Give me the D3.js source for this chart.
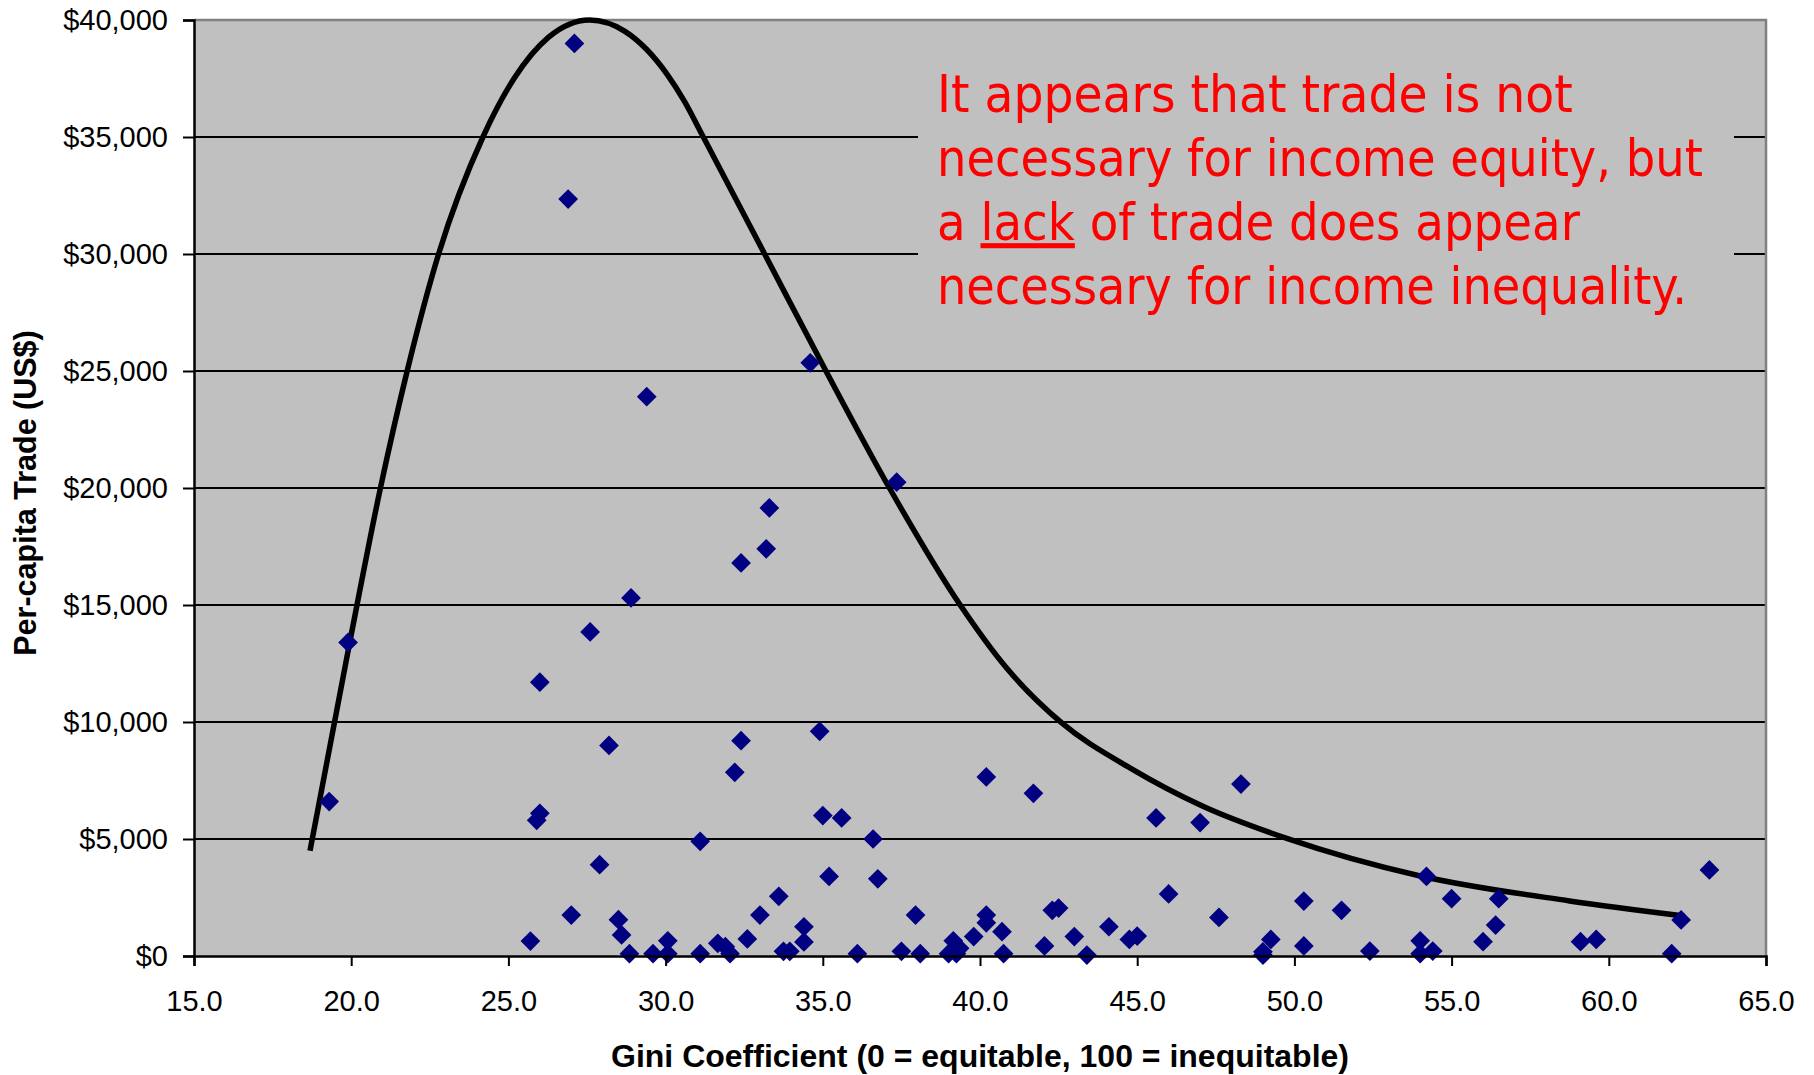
<!DOCTYPE html>
<html>
<head>
<meta charset="utf-8">
<script src="https://cdn.jsdelivr.net/npm/d3@7"></script>
<style>
  html, body { margin: 0; padding: 0; background: #ffffff; }
  svg { display: block; }
</style>
</head>
<body>
<svg id="chart" width="1814" height="1075"></svg>
<script>
// ---- Data ----
const giniValues = [
  19.3, 19.9, 25.7, 25.9, 26.0, 26.0, 26.9, 27.1, 27.0, 27.6,
  27.9, 28.2, 28.5, 28.6, 28.85, 28.9, 29.4, 29.6, 30.07, 30.07,
  31.1, 31.1, 31.66, 31.9, 32.05, 32.2, 32.4, 32.4, 32.6, 33.0,
  33.2, 33.3, 33.6, 33.75, 33.95, 34.4, 34.4, 34.6, 34.9, 35.0,
  35.2, 35.6, 36.1, 36.6, 36.75, 37.35, 37.5, 37.95, 38.1, 39.0,
  39.15, 39.25, 39.35, 39.8, 40.2, 40.2, 40.2, 40.7, 40.75, 41.7,
  42.05, 42.3, 42.5, 43.0, 43.4, 44.1, 44.75, 45.0, 45.6, 46.0,
  47.0, 47.6, 48.3, 49.0, 49.0, 49.25, 50.3, 50.3, 51.5, 52.4,
  54.0, 54.0, 54.4, 54.2, 55.0, 56.0, 56.4, 56.5, 59.1, 59.6,
  62.0, 62.3, 63.2
];
const tradeValues = [
  6600, 13400, 640, 5800, 6100, 11700, 32350, 39000, 1750, 13850,
  3900, 9000, 1550, 900, 100, 15300, 23900, 100, 650, 100,
  4900, 100, 540, 400, 100, 7850, 9200, 16800, 730, 1750,
  17400, 19150, 2550, 200, 200, 1250, 600, 25350, 9600, 6000,
  3400, 5900, 100, 5000, 3300, 20250, 200, 1750, 100, 100,
  650, 100, 330, 830, 1750, 1420, 7650, 1040, 100, 6950,
  430, 1950, 2050, 830, 40, 1250, 710, 850, 5900, 2650,
  5700, 1650, 7350, 180, 40, 710, 2350, 430, 1950, 210,
  650, 100, 210, 3400, 2450, 610, 1320, 2450, 610, 710,
  100, 1540, 3680
];

// Hand-drawn envelope curve
const curveGini  = [18.69, 19.91, 20.93, 21.78, 22.78, 24.19, 25.19, 26.28, 27.58, 28.72, 29.4, 30.06, 30.6, 31.2, 33.15, 35.1, 37.12, 39.37, 40.84, 42.6, 44.78, 47.09, 49.78, 53.97, 58.75, 62.4];
const curveTrade = [4500, 13100, 20000, 25000, 30000, 35000, 37519, 39265, 40000, 39505, 38738, 37657, 36525, 35000, 30000, 25000, 20000, 15000, 12316, 9960, 8030, 6400, 5015, 3430, 2354, 1711];

const xTicks = [15, 20, 25, 30, 35, 40, 45, 50, 55, 60, 65];
const yTicks = [0, 5000, 10000, 15000, 20000, 25000, 30000, 35000, 40000];

const annotationLines = [
  ["It appears that trade is not"],
  ["necessary for income equity, but"],
  ["a ", "lack", " of trade does appear"],
  ["necessary for income inequality."]
];
const annotationWidths = [636, 766, 643, 750];

const xTitle = "Gini Coefficient (0 = equitable, 100 = inequitable)";
const yTitle = "Per-capita Trade (US$)";

// ---- Layout ----
const L = 194, R = 1766, T = 20, B = 956;
const svg = d3.select("#chart");
const x = d3.scaleLinear().domain([15, 65]).range([L, R]);
const y = d3.scaleLinear().domain([0, 40000]).range([B, T]);
const tickFont = "'Liberation Sans', Arial, sans-serif";

// plot background
svg.append("rect").attr("x", L).attr("y", T).attr("width", R - L).attr("height", B - T)
  .attr("fill", "#C0C0C0");

// gridlines
svg.append("g").selectAll("line").data(yTicks.filter(d => d > 0 && d < 40000)).join("line")
  .attr("x1", L).attr("x2", R).attr("y1", d => y(d)).attr("y2", d => y(d))
  .attr("stroke", "#000").attr("stroke-width", 2);

// top and right border (gray)
svg.append("path")
  .attr("d", `M${L},${y(40000)}H${R}V${B}`)
  .attr("fill", "none").attr("stroke", "#808080").attr("stroke-width", 2.5);

// text box (covers gridlines)
svg.append("rect").attr("x", 918).attr("y", 48).attr("width", 816).attr("height", 285)
  .attr("fill", "#C0C0C0");

// curve
const line = d3.line().x(d => x(d[0])).y(d => y(d[1])).curve(d3.curveMonotoneX);
svg.append("path")
  .datum(curveGini.map((g, i) => [g, curveTrade[i]]))
  .attr("d", line)
  .attr("fill", "none").attr("stroke", "#000").attr("stroke-width", 5.5);

// points (diamonds)
const diamond = d3.symbol().type(d3.symbolSquare).size(195);
svg.append("g").selectAll("path").data(giniValues.map((g, i) => [g, tradeValues[i]])).join("path")
  .attr("d", diamond)
  .attr("transform", d => `translate(${x(d[0])},${y(d[1])}) rotate(45)`)
  .attr("fill", "#000080");

// axes
const xAxis = d3.axisBottom(x).tickValues(xTicks).tickSize(10).tickFormat(d3.format(".1f"));
const gx = svg.append("g").attr("transform", `translate(0,${B})`).call(xAxis);
gx.select(".domain").attr("stroke", "#000").attr("stroke-width", 2.5);
gx.selectAll(".tick line").attr("stroke", "#000").attr("stroke-width", 2);
gx.selectAll(".tick text").attr("y", 55).attr("dy", 0)
  .attr("font-family", tickFont).attr("font-size", 29).attr("fill", "#000");

const yAxis = d3.axisLeft(y).tickValues(yTicks).tickSize(11).tickPadding(15)
  .tickFormat(d => "$" + d3.format(",")(d));
const gy = svg.append("g").attr("transform", `translate(${L},0)`).call(yAxis);
gy.select(".domain").attr("stroke", "#000").attr("stroke-width", 2.5);
gy.selectAll(".tick line").attr("stroke", "#000").attr("stroke-width", 2);
gy.selectAll(".tick text").attr("font-family", tickFont).attr("font-size", 29).attr("fill", "#000");

// axis titles
svg.append("text").attr("x", (L + R) / 2).attr("y", 1067).attr("text-anchor", "middle")
  .attr("font-family", tickFont).attr("font-weight", "bold").attr("font-size", 32)
  .text(xTitle);
svg.append("text").attr("transform", `translate(36,493) rotate(-90)`).attr("text-anchor", "middle")
  .attr("font-family", tickFont).attr("font-weight", "bold").attr("font-size", 30.5)
  .text(yTitle);

// annotation
const baselines = [112, 176, 240, 304];
annotationLines.forEach((parts, i) => {
  const t = svg.append("text")
    .attr("font-family", "'DejaVu Sans', Verdana, sans-serif")
    .attr("font-size", 51).attr("fill", "#FF0000");
  parts.forEach((p, j) => {
    const ts = t.append("tspan").text(p).attr("xml:space", "preserve").style("white-space", "pre");
    if (p === "lack") ts.attr("text-decoration", "underline").style("text-decoration", "underline");
  });
  const w = t.node().getComputedTextLength();
  const s = annotationWidths[i] / w;
  t.attr("transform", `translate(937,${baselines[i]}) scale(${s},1)`);
});
</script>
</body>
</html>
